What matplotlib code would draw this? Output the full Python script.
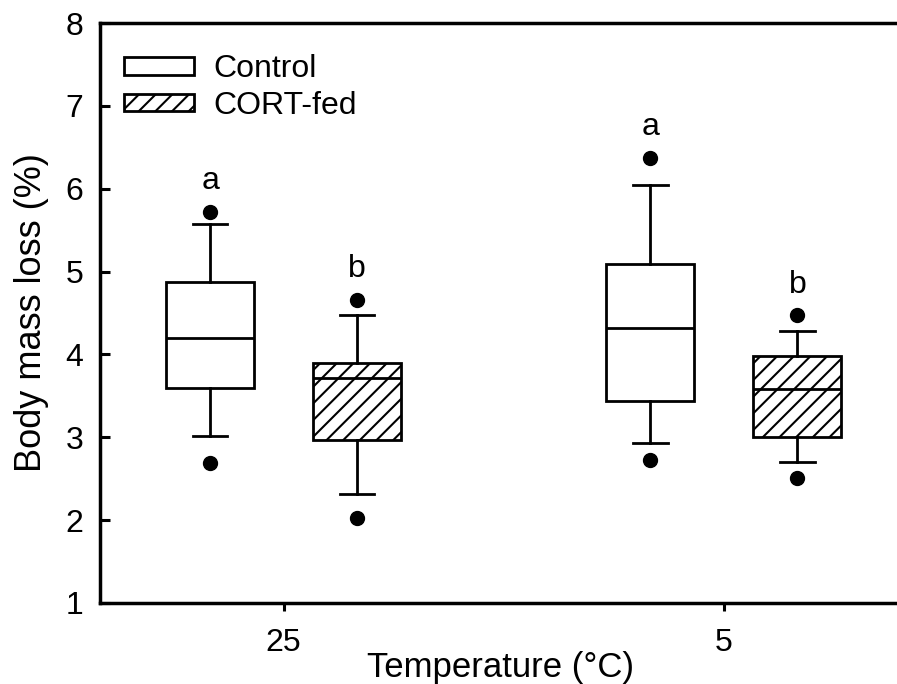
import matplotlib
matplotlib.use('Agg')
import matplotlib.pyplot as plt
from matplotlib.patches import Patch

plt.rcParams['font.family'] = ['Liberation Sans', 'DejaVu Sans']
plt.rcParams['hatch.linewidth'] = 1.5

# data (body mass loss, %)
temps = ['25', '5']
groups = ['Control', 'CORT-fed']
# order: 25 Control, 25 CORT, 5 Control, 5 CORT
q1 = [3.60, 2.97, 3.44, 3.00]
med = [4.20, 3.71, 4.32, 3.58]
q3 = [4.87, 3.90, 5.09, 3.98]
whislo = [3.02, 2.31, 2.93, 2.70]
whishi = [5.58, 4.48, 6.04, 4.28]
fliers = [[5.72, 2.69], [4.66, 2.03], [6.37, 2.72], [4.47, 2.51]]
letters = ['a', 'b', 'a', 'b']

pos = [1 - 0.167, 1 + 0.167, 2 - 0.167, 2 + 0.167]
hatches = ['', '//', '', '//']

stats = []
for i in range(4):
    stats.append(dict(med=med[i], q1=q1[i], q3=q3[i], whislo=whislo[i],
                      whishi=whishi[i], fliers=fliers[i]))

fig = plt.figure(figsize=(8.97, 6.84), dpi=100)
ax = fig.add_axes([100 / 897, 81 / 684, 800 / 897, 580 / 684])

lw = 2
bp = ax.bxp(stats, positions=pos, widths=0.2, capwidths=0.078, patch_artist=True,
            boxprops=dict(linewidth=lw, edgecolor='black', facecolor='white'),
            medianprops=dict(color='black', linewidth=lw),
            whiskerprops=dict(color='black', linewidth=lw),
            capprops=dict(color='black', linewidth=lw),
            flierprops=dict(marker='o', markerfacecolor='black', markeredgecolor='black',
                            markersize=10))
for box, h in zip(bp['boxes'], hatches):
    box.set_hatch(h)

# significance letters above the top dot
for p, f, t in zip(pos, fliers, letters):
    ax.text(p, max(f) + 0.19, t, ha='center', va='bottom', fontsize=23)

ax.set_xlim(0.583, 2.4)
ax.set_ylim(1, 8)
ax.set_yticks(range(1, 9))
ax.set_xticks([1, 2])
ax.set_xticklabels(temps)
ax.tick_params(axis='y', direction='in', length=7, width=2.2, labelsize=23, pad=12)
ax.tick_params(axis='x', direction='out', length=6, width=2.2, labelsize=23, pad=12)
for s in ax.spines.values():
    s.set_linewidth(2.5)

ax.set_xlabel('Temperature (°C)', fontsize=25, labelpad=-5)
ax.set_ylabel('Body mass loss (%)', fontsize=26, labelpad=12)

handles = [Patch(facecolor='white', edgecolor='black', linewidth=lw, hatch=h)
           for h in ['', '//']]
ax.legend(handles, groups, loc='upper left', bbox_to_anchor=(0.03, 0.946),
          frameon=False, fontsize=23, handlelength=2.2, handleheight=0.45,
          handletextpad=0.6, labelspacing=0.2, borderpad=0, borderaxespad=0)

fig.savefig('out.png', dpi=100)
